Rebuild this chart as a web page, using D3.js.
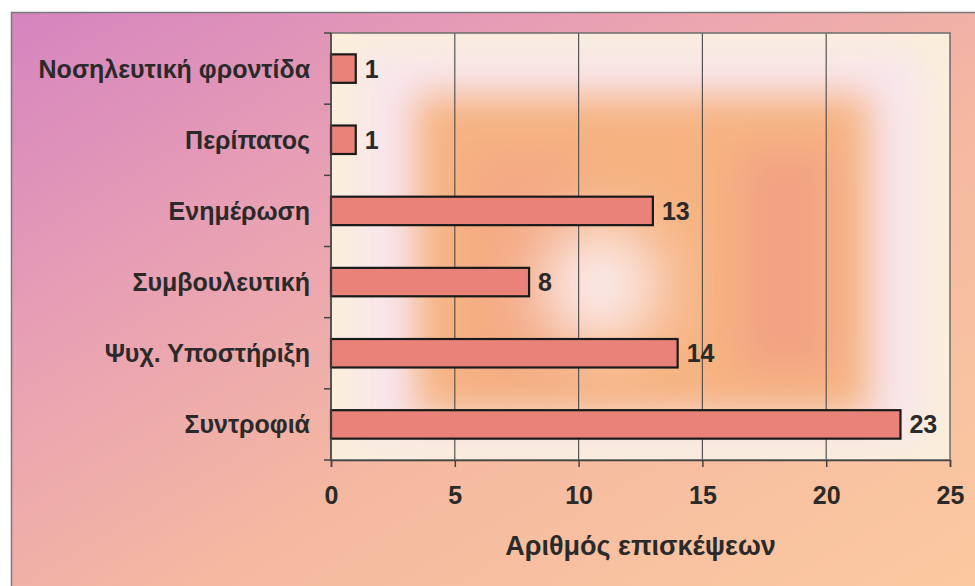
<!DOCTYPE html>
<html><head><meta charset="utf-8">
<script src="https://cdn.jsdelivr.net/npm/d3@7"></script>
<style>html,body{margin:0;padding:0;background:#fff;}svg{display:block;}</style>
</head><body>
<svg id="chart" width="975" height="586"></svg>
<script>
const categories = ["Νοσηλευτική φροντίδα","Περίπατος","Ενημέρωση","Συμβουλευτική","Ψυχ. Υποστήριξη","Συντροφιά"];
const values = [1, 1, 13, 8, 14, 23];
const xTicks = [0, 5, 10, 15, 20, 25];
const xTitle = "Αριθμός επισκέψεων";

const W = 975, H = 586;
const m = {left: 331, right: 25, top: 33, bottom: 126};
const FONT = "'Liberation Sans',Arial,sans-serif";
const TXT = "#2a2a2a";
const svg = d3.select("#chart");
const defs = svg.append("defs");

const bg = defs.append("linearGradient").attr("id","bg").attr("x1","0").attr("y1","0").attr("x2","1").attr("y2","1");
[[0,"#d684bf"],[0.3,"#e8a0b4"],[0.6,"#f5b9a0"],[1,"#fbc9a0"]].forEach(s=>bg.append("stop").attr("offset",s[0]).attr("stop-color",s[1]));
const blur = defs.append("filter").attr("id","blur").attr("x","-30%").attr("y","-30%").attr("width","160%").attr("height","160%");
blur.append("feGaussianBlur").attr("stdDeviation",18);
const blur2 = defs.append("filter").attr("id","blur2").attr("x","-60%").attr("y","-60%").attr("width","220%").attr("height","220%");
blur2.append("feGaussianBlur").attr("stdDeviation",30);

svg.append("rect").attr("x",11).attr("y",12).attr("width",W-11).attr("height",H-12).attr("fill","url(#bg)");
svg.append("line").attr("x1",11).attr("x2",W).attr("y1",12.5).attr("y2",12.5).attr("stroke","#7a7a7a").attr("stroke-width",1.5);
svg.append("line").attr("x1",11.5).attr("x2",11.5).attr("y1",12).attr("y2",H).attr("stroke","#7a7a7a").attr("stroke-width",1.5);

const x = d3.scaleLinear().domain([0,25]).range([m.left, W - m.right]);
const y = d3.scaleBand().domain(categories).range([m.top, H - m.bottom]).paddingInner(0.6).paddingOuter(0.3);
const x0 = x.range()[0], x1 = x.range()[1], y0 = m.top, y1 = H - m.bottom;

// plot background
const clip = defs.append("clipPath").attr("id","pc");
clip.append("rect").attr("x",x0).attr("y",y0).attr("width",x1-x0).attr("height",y1-y0);
const pg = svg.append("g").attr("clip-path","url(#pc)");
pg.append("rect").attr("x",x0).attr("y",y0).attr("width",x1-x0).attr("height",y1-y0).attr("fill","#faeedb");
pg.append("rect").attr("x",x0+30).attr("y",y0+20).attr("width",x1-x0-60).attr("height",y1-y0-40).attr("fill","#f8e6ee").attr("filter","url(#blur)");
pg.append("rect").attr("x",415).attr("y",95).attr("width",455).attr("height",320).attr("fill","#f6b382").attr("filter","url(#blur)");
pg.append("rect").attr("x",740).attr("y",150).attr("width",90).attr("height",220).attr("fill","#f3a383").attr("filter","url(#blur)");
pg.append("rect").attr("x",470).attr("y",150).attr("width",110).attr("height",230).attr("fill","#f2a286").attr("opacity",0.5).attr("filter","url(#blur)");
pg.append("ellipse").attr("cx",600).attr("cy",285).attr("rx",60).attr("ry",60).attr("fill","#fbeaea").attr("filter","url(#blur2)");

// gridlines
svg.append("g").selectAll("line").data(xTicks.slice(1,-1)).join("line")
  .attr("x1",d=>x(d)).attr("x2",d=>x(d)).attr("y1",y0).attr("y2",y1)
  .attr("stroke","#555").attr("stroke-width",1.2);
svg.append("rect").attr("x",x0).attr("y",y0).attr("width",x1-x0).attr("height",y1-y0)
  .attr("fill","none").attr("stroke","#6e6e6e").attr("stroke-width",1.5);

// bars
svg.append("g").selectAll("rect").data(values).join("rect")
  .attr("x",x(0)).attr("y",(d,i)=>y(categories[i]))
  .attr("width",d=>x(d)-x(0)).attr("height",y.bandwidth())
  .attr("fill","#e9837a").attr("stroke","#1a1a1a").attr("stroke-width",2.2);

// value labels
svg.append("g").selectAll("text").data(values).join("text")
  .attr("x",d=>x(d)+9).attr("y",(d,i)=>y(categories[i])+y.bandwidth()/2)
  .attr("dy","0.36em").attr("font-family",FONT)
  .attr("font-size",25).attr("font-weight","bold").attr("fill",TXT).text(d=>d);

// x axis
const xa = svg.append("g").attr("transform",`translate(0,${y1})`)
  .call(d3.axisBottom(x).tickValues(xTicks).tickSize(7).tickPadding(19));
xa.select(".domain").attr("stroke","#444").attr("stroke-width",1.5);
xa.selectAll(".tick line").attr("stroke","#444").attr("stroke-width",1.5);
xa.selectAll("text").attr("font-family",FONT).attr("font-size",25).attr("font-weight","bold").attr("fill",TXT);

// y axis ticks at band boundaries
const step = (y1-y0)/categories.length;
const bounds = d3.range(categories.length+1).map(i=>y0+i*step);
svg.append("g").selectAll("line").data(bounds).join("line")
  .attr("x1",x0-7).attr("x2",x0).attr("y1",d=>d).attr("y2",d=>d).attr("stroke","#444").attr("stroke-width",1.5);
svg.append("line").attr("x1",x0).attr("x2",x0).attr("y1",y0).attr("y2",y1).attr("stroke","#444").attr("stroke-width",1.5);

svg.append("g").selectAll("text").data(categories).join("text")
  .attr("x",x0-21).attr("y",d=>y(d)+y.bandwidth()/2).attr("dy","0.36em").attr("text-anchor","end")
  .attr("font-family",FONT).attr("font-size",25).attr("font-weight","bold").attr("fill",TXT).text(d=>d);

svg.append("text").attr("x",(x0+x1)/2).attr("y",555).attr("text-anchor","middle")
  .attr("font-family",FONT).attr("font-size",27).attr("font-weight","bold").attr("fill",TXT).text(xTitle);
</script>
</body></html>
